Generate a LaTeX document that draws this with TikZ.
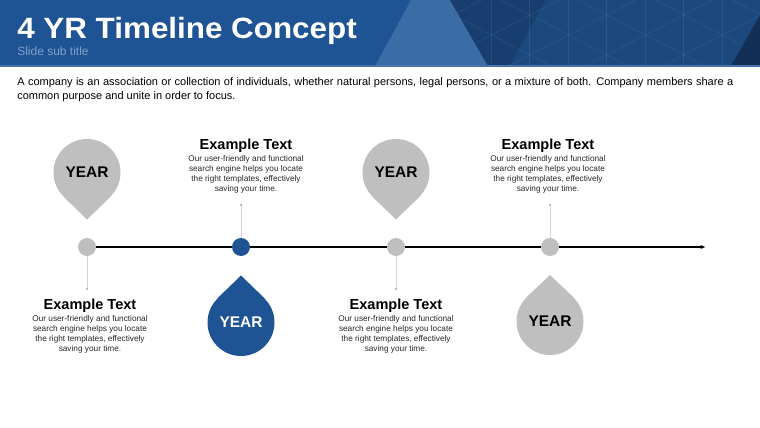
\documentclass[tikz,border=0pt]{standalone}
\usepackage{fontspec}
\setmainfont{Liberation Sans}
\usepackage{graphicx}
\usepackage{tikz}
\usetikzlibrary{arrows.meta,positioning,calc,backgrounds}
\definecolor{headblue}{RGB}{30,84,148}
\definecolor{lightblue}{RGB}{58,108,165}
\definecolor{darkblue}{RGB}{23,62,110}
\definecolor{gridblue}{RGB}{27,73,126}
\definecolor{deepblue}{RGB}{19,47,85}
\definecolor{gridline}{RGB}{70,115,170}
\definecolor{subgray}{RGB}{130,160,200}
\definecolor{pingray}{RGB}{191,191,191}
\definecolor{pinblue}{RGB}{30,84,148}
\definecolor{linegray}{RGB}{212,212,212}
\definecolor{textgray}{RGB}{38,38,38}

\begin{document}
\begin{tikzpicture}[x=0.75pt,y=-0.75pt,
    dot/.style={circle,fill=pingray,minimum size=13.5pt,inner sep=0pt},
    enddot/.style={circle,fill=gray!70,minimum size=1.6pt,inner sep=0pt},
    leader/.style={draw=linegray,line width=0.6pt},
    pin/.style={circle,fill=pingray,minimum size=50.25pt,inner sep=0pt,
        font=\bfseries\fontsize{11.6}{12}\selectfont,text=black},
    bluepin/.style={pin,fill=pinblue,text=white},
    captitle/.style={font=\bfseries\fontsize{10.9}{12}\selectfont,inner sep=0pt,anchor=base},
    capbody/.style={font=\fontsize{6.2}{7.5}\selectfont,align=center,inner sep=0pt,text=textgray},
    timeline/.style={line width=0.9pt,-{Latex[length=4pt,width=3pt]}}]
    \useasboundingbox (0,0) rectangle (760,428);
    % Header band
    \fill[headblue] (0,0) rectangle (760,66);
    \fill[lightblue] (375,66) -- (411,0) -- (450,0) -- (488,66) -- cycle;
    \fill[darkblue] (450,0) -- (546,0) -- (510,66) -- (488,66) -- cycle;
    \fill[gridblue] (546,0) -- (760,0) -- (760,66) -- (510,66) -- cycle;
    \begin{scope}
        \clip (450,0) -- (760,0) -- (760,66) -- (488,66) -- cycle;
        \foreach \k in {-3,...,4} {
            \draw[gridline,line width=0.4pt,opacity=0.35] (450,-66.6+40*\k) -- (760,94.5+40*\k);
            \draw[gridline,line width=0.4pt,opacity=0.35] (450,96.6+40*\k) -- (760,-64.5+40*\k);
        }
        \foreach \x in {491,529.5,568,606.5,645,683.5,722} {
            \draw[gridline,line width=0.4pt,opacity=0.35] (\x,0) -- (\x,66);
        }
    \end{scope}
    \fill[deepblue] (760,15) -- (760,66) -- (731,66) -- cycle;
    \fill[gridline] (0,65) rectangle (760,67);
    % Title
    \node[anchor=base west,inner sep=0pt,text=white] (title) at (17,39)
        {\scalebox{1.07}[1]{\bfseries\fontsize{22}{24}\selectfont 4 YR Timeline Concept}};
    \node[anchor=base west,inner sep=0pt,text=subgray,font=\fontsize{9}{10}\selectfont]
        (subtitle) at (17,56) {Slide sub title};
    \node[anchor=north west,inner sep=0pt,text width=537pt,align=justify,
        font=\fontsize{8.25}{10.5}\selectfont] (intro) at (17,77)
        {A company is an association or collection of individuals, whether natural persons, legal persons, or a mixture of both. Company members share a\linebreak common purpose and unite in order to focus.};
    % Timeline dots
    \node[dot] (d1) at (87,247) {};
    \node[dot,fill=pinblue] (d2) at (241,247) {};
    \node[dot] (d3) at (396,247) {};
    \node[dot] (d4) at (550,247) {};
    \coordinate (lineend) at (706,247);
    \begin{pgfonlayer}{background}
        \draw[timeline] (d1) -- (lineend);
    \end{pgfonlayer}
    % Leaders
    \node[enddot] (e1) at (87,289) {};
    \node[enddot] (e2) at (241,205) {};
    \node[enddot] (e3) at (396,289) {};
    \node[enddot] (e4) at (550,205) {};
    \draw[leader] (d1) -- (e1);
    \draw[leader] (e2) -- (d2);
    \draw[leader] (d3) -- (e3);
    \draw[leader] (e4) -- (d4);
    % Year pins
    \node[pin] (year1) at (87,172.5) {YEAR};
    \coordinate (tip1) at (87,219.5);
    \fill[pingray] (year1.south west) -- (tip1) -- (year1.south east) -- cycle;
    \node[bluepin] (year2) at (241,322.5) {YEAR};
    \coordinate (tip2) at (241,275.5);
    \fill[pinblue] (year2.north west) -- (tip2) -- (year2.north east) -- cycle;
    \node[pin] (year3) at (396,172.5) {YEAR};
    \coordinate (tip3) at (396,219.5);
    \fill[pingray] (year3.south west) -- (tip3) -- (year3.south east) -- cycle;
    \node[pin] (year4) at (550,321.5) {YEAR};
    \coordinate (tip4) at (550,275);
    \fill[pingray] (year4.north west) -- (tip4) -- (year4.north east) -- cycle;
    % Captions
    \node[captitle] (cap1) at (90,309) {Example Text};
    \node[capbody,below=2pt of cap1] (body1) {Our user-friendly and functional\\search engine helps you locate\\the right templates, effectively\\saving your time.};
    \node[captitle] (cap2) at (246,149) {Example Text};
    \node[capbody,below=2pt of cap2] (body2) {Our user-friendly and functional\\search engine helps you locate\\the right templates, effectively\\saving your time.};
    \node[captitle] (cap3) at (396,309) {Example Text};
    \node[capbody,below=2pt of cap3] (body3) {Our user-friendly and functional\\search engine helps you locate\\the right templates, effectively\\saving your time.};
    \node[captitle] (cap4) at (548,149) {Example Text};
    \node[capbody,below=2pt of cap4] (body4) {Our user-friendly and functional\\search engine helps you locate\\the right templates, effectively\\saving your time.};
\end{tikzpicture}
\end{document}
